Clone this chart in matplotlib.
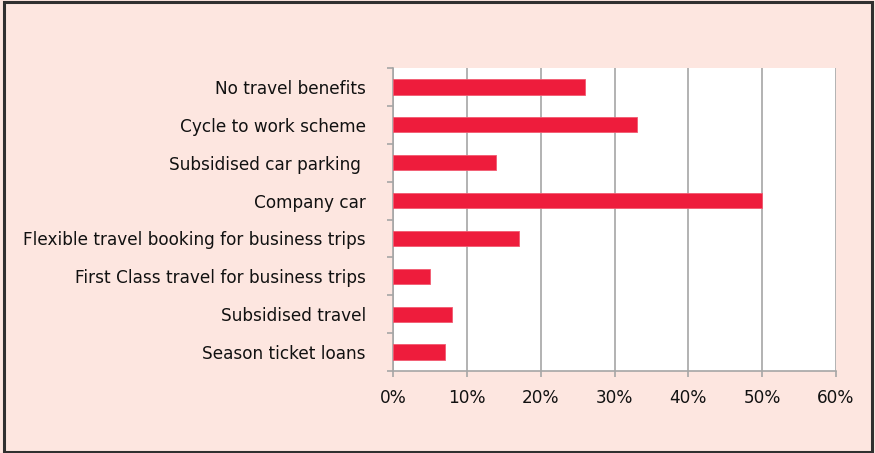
import matplotlib.pyplot as plt
from matplotlib.patches import Rectangle
from matplotlib.ticker import FuncFormatter

# travel benefits offered, share of respondents
benefits = ["No travel benefits", "Cycle to work scheme", "Subsidised car parking ",
            "Company car", "Flexible travel booking for business trips",
            "First Class travel for business trips", "Subsidised travel",
            "Season ticket loans"]
shares = [0.26, 0.33, 0.14, 0.50, 0.17, 0.05, 0.08, 0.07]

bg = "#fde6e0"
red = "#ee1c3c"
grey = "#a6a6a6"

plt.rcParams['font.family'] = ['DejaVu Sans']

fig = plt.figure(figsize=(8.75, 4.53), dpi=100)
fig.patch.set_facecolor(bg)
ax = fig.add_axes([393/875, 82/453, 443/875, 303/453])
ax.set_facecolor("white")

# first category at the top
ypos = list(range(len(benefits)))[::-1]
ax.barh(ypos, shares, height=0.4, color=red, edgecolor="#f25a70", linewidth=0.6, zorder=3)

ax.set_xlim(0, 0.6)
ax.set_ylim(-0.5, len(benefits) - 0.5)
ax.set_xticks([0, 0.1, 0.2, 0.3, 0.4, 0.5, 0.6])
ax.xaxis.set_major_formatter(FuncFormatter(lambda v, p: f"{v*100:.0f}%"))
ax.set_yticks(ypos)
ax.set_yticklabels(benefits)
ax.set_yticks([i - 0.5 for i in range(len(benefits) + 1)], minor=True)

ax.grid(axis="x", color=grey, linewidth=1.2, zorder=0)
for s in ["top", "right"]:
    ax.spines[s].set_visible(False)
for s in ["left", "bottom"]:
    ax.spines[s].set_color(grey)
    ax.spines[s].set_linewidth(1.2)

ax.tick_params(axis="y", which="major", length=0, pad=19.5, labelsize=12.2, colors="#111111")
ax.tick_params(axis="y", which="minor", length=4, color=grey, width=1.2)
ax.tick_params(axis="x", length=4, color=grey, width=1.2, pad=9, labelsize=12.2, colors="#111111")

# outer frame
fig.patches.append(Rectangle((0.004, 0.002), 0.992, 0.994, transform=fig.transFigure,
                             fill=False, edgecolor="#303030", linewidth=2.2))

fig.savefig("out.png", dpi=100, facecolor=bg)
